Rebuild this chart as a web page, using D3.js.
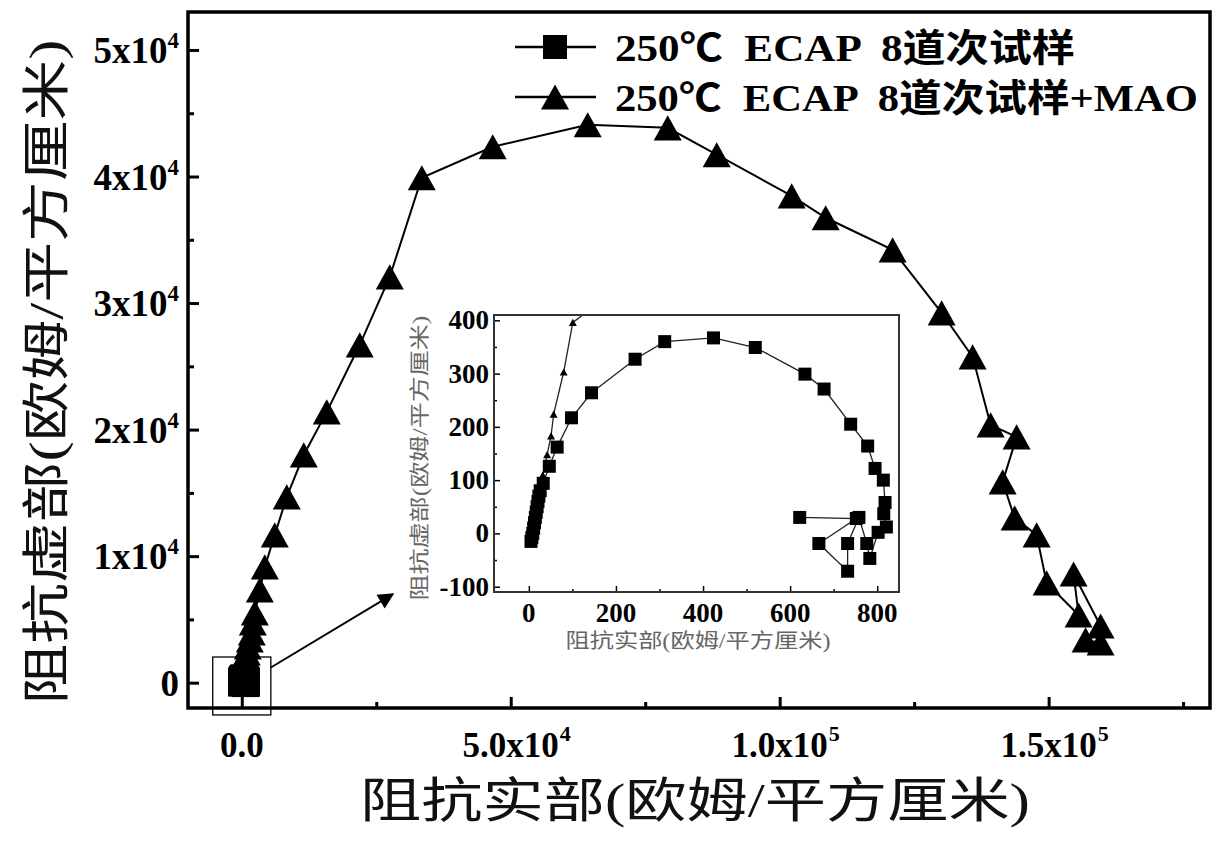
<!DOCTYPE html>
<meta charset="utf-8">
<style>
body { margin: 0; background: #fff; }
.tick line { stroke: #000; }
.lbl { font-family: "Liberation Serif", "Times New Roman", serif; font-weight: bold; fill: #000; }
.cjk { font-family: "Liberation Serif", "Noto Sans CJK SC", serif; }
</style>
<body>
<svg width="1218" height="845"></svg>
<script src="https://d3js.org/d3.v7.min.js"></script>
<script>
// 250C ECAP 8 pass sample (squares)
var ecapRe = [5, 7, 9, 11, 13, 15, 17, 19, 21, 23, 26, 33, 47, 65, 98, 144, 244, 312, 424, 520, 634, 678, 739, 778, 795, 814, 818, 815, 821, 802, 783, 776, 758, 732, 732, 666, 752, 622];
var ecapIm = [-15, -8, 0, 10, 20, 30, 40, 50, 60, 70, 80, 94, 126, 162, 217, 264, 327, 360, 367, 349, 299, 271, 205, 164, 122, 100, 58, 37, 12, 2, -47, -19, 30, -19, -71, -19, 28, 30];

// 250C ECAP 8 pass sample + MAO (triangles)
var maoRe = [5, 12, 22, 32, 42, 51, 57, 80, 101, 190, 370, 560, 740, 930, 1110, 1490, 1860, 2050, 2420, 3350, 4280, 6130, 8360, 11520, 15800, 21930, 27510, 33460, 46650, 64310, 79180, 88290, 102230, 108550, 121000, 130110, 135870, 139220, 144050, 141450, 143680, 147770, 149630, 155570, 154640, 159660, 156870, 159660];
var maoIm = [-8, 30, 70, 110, 148, 183, 224, 303, 396, 450, 920, 1400, 1870, 2350, 2820, 3380, 3930, 4720, 5510, 7330, 9150, 11680, 14680, 18000, 21400, 26700, 32070, 39900, 42350, 44090, 43850, 41720, 38470, 36740, 34200, 29230, 25750, 20370, 19420, 15870, 13020, 11680, 7880, 5350, 8590, 4480, 3380, 3140];

var seriesNames = ["250℃  ECAP  8道次试样", "250℃  ECAP  8道次试样+MAO"];

var xMajor = [0, 5e4, 1e5, 1.5e5];
var xMinor = [2.5e4, 7.5e4, 1.25e5, 1.75e5];
var xTickBase = ["0.0", "5.0x10", "1.0x10", "1.5x10"];
var xTickExp = ["", "4", "5", "5"];
var yMajor = [0, 1e4, 2e4, 3e4, 4e4, 5e4];
var yMinor = [5e3, 1.5e4, 2.5e4, 3.5e4, 4.5e4];
var yTickBase = ["0", "1x10", "2x10", "3x10", "4x10", "5x10"];
var yTickExp = ["", "4", "4", "4", "4", "4"];

var insetXMajor = [0, 200, 400, 600, 800];
var insetXMinor = [100, 300, 500, 700];
var insetYMajor = [-100, 0, 100, 200, 300, 400];
var insetYMinor = [-50, 50, 150, 250, 350];

// zoom box around the origin and the arrow (data units)
var zoomBoxRe = [-5400, 5400];
var zoomBoxIm = [-2550, 2030];
var arrowFrom = [5400, 1200];
var arrowTo = [28100, 7000];

var xTitle = "阻抗实部(欧姆/平方厘米)";
var yTitle = "阻抗虚部(欧姆/平方厘米)";

var svg = d3.select("svg");
var pL = 188, pR = 1210, pT = 12, pB = 708;

var x = d3.scaleLinear().domain([-1e4, 1.8e5]).range([pL, pR]);
var y = d3.scaleLinear().domain([-2000, 53000]).range([pB, pT]);

var ix = d3.scaleLinear().domain([-80, 850]).range([494, 899]);
var iy = d3.scaleLinear().domain([-110, 410]).range([592, 315]);

var ecap = ecapRe.map(function(d, i) { return [d, ecapIm[i]]; });
var mao = maoRe.map(function(d, i) { return [d, maoIm[i]]; });

// triangle centred on its box, size = width
var tri = {
  draw: function(ctx, w) {
    var h = w * 0.9;
    ctx.moveTo(0, -h / 2);
    ctx.lineTo(w / 2, h / 2);
    ctx.lineTo(-w / 2, h / 2);
    ctx.closePath();
  }
};
var sq = {
  draw: function(ctx, w) { ctx.rect(-w / 2, -w / 2, w, w); }
};

var defs = svg.append("defs");
defs.append("clipPath").attr("id", "mainClip").append("rect")
    .attr("x", pL).attr("y", pT).attr("width", pR - pL).attr("height", pB - pT);
defs.append("clipPath").attr("id", "insetClip").append("rect")
    .attr("x", ix.range()[0]).attr("y", iy.range()[1])
    .attr("width", ix.range()[1] - ix.range()[0]).attr("height", iy.range()[0] - iy.range()[1]);
defs.append("marker").attr("id", "arrow").attr("viewBox", "0 0 10 10")
    .attr("refX", 9).attr("refY", 5).attr("markerWidth", 22).attr("markerHeight", 16)
    .attr("markerUnits", "userSpaceOnUse").attr("orient", "auto")
    .append("path").attr("d", "M0,0L10,5L0,10z").attr("fill", "#000");

// main plot
var plot = svg.append("g").attr("clip-path", "url(#mainClip)");
var line = d3.line().x(function(d) { return x(d[0]); }).y(function(d) { return y(d[1]); });

plot.append("path").datum(mao).attr("d", line)
    .attr("fill", "none").attr("stroke", "#000").attr("stroke-width", 2);
plot.append("path").datum(ecap).attr("d", line)
    .attr("fill", "none").attr("stroke", "#000").attr("stroke-width", 2);
plot.selectAll(".sq").data(ecap).enter().append("path")
    .attr("transform", function(d) { return "translate(" + x(d[0]) + "," + y(d[1]) + ")"; })
    .attr("d", d3.symbol().type(sq).size(27));
plot.selectAll(".tri").data(mao).enter().append("path")
    .attr("transform", function(d) { return "translate(" + x(d[0]) + "," + y(d[1]) + ")"; })
    .attr("d", d3.symbol().type(tri).size(28));

// zoom box + arrow
svg.append("rect")
    .attr("x", x(zoomBoxRe[0])).attr("y", y(zoomBoxIm[1]))
    .attr("width", x(zoomBoxRe[1]) - x(zoomBoxRe[0])).attr("height", y(zoomBoxIm[0]) - y(zoomBoxIm[1]))
    .attr("fill", "none").attr("stroke", "#000").attr("stroke-width", 1.3);
svg.append("line")
    .attr("x1", x(arrowFrom[0])).attr("y1", y(arrowFrom[1]))
    .attr("x2", x(arrowTo[0])).attr("y2", y(arrowTo[1]))
    .attr("stroke", "#000").attr("stroke-width", 2).attr("marker-end", "url(#arrow)");

// main ticks (inward)
function ticks(g, axis) { g.call(axis); g.select(".domain").remove(); }
svg.append("g").attr("transform", "translate(" + pL + ",0)")
    .call(ticks, d3.axisLeft(y).tickValues(yMajor).tickSize(-11).tickFormat(""))
    .selectAll("line").attr("stroke-width", 3);
svg.append("g").attr("transform", "translate(" + pL + ",0)")
    .call(ticks, d3.axisLeft(y).tickValues(yMinor).tickSize(-6).tickFormat(""))
    .selectAll("line").attr("stroke-width", 3);
svg.append("g").attr("transform", "translate(0," + pB + ")")
    .call(ticks, d3.axisBottom(x).tickValues(xMajor).tickSize(-11).tickFormat(""))
    .selectAll("line").attr("stroke-width", 3);
svg.append("g").attr("transform", "translate(0," + pB + ")")
    .call(ticks, d3.axisBottom(x).tickValues(xMinor).tickSize(-6).tickFormat(""))
    .selectAll("line").attr("stroke-width", 3);

svg.append("rect").attr("x", pL).attr("y", pT)
    .attr("width", pR - pL).attr("height", pB - pT)
    .attr("fill", "none").attr("stroke", "#000").attr("stroke-width", 3.5);

// main tick labels
yMajor.forEach(function(v, i) {
  var t = svg.append("text").attr("class", "lbl").attr("x", 179).attr("y", y(v) + 13)
      .attr("text-anchor", "end").style("font-size", "37px");
  t.append("tspan").text(yTickBase[i]);
  if (yTickExp[i]) t.append("tspan").attr("dy", -15).style("font-size", "23px").text(yTickExp[i]);
});
xMajor.forEach(function(v, i) {
  var t = svg.append("text").attr("class", "lbl").attr("x", x(v)).attr("y", 757)
      .attr("text-anchor", "middle").style("font-size", "35px").text(xTickBase[i]);
  if (xTickExp[i]) {
    var w = t.node().getComputedTextLength();
    svg.append("text").attr("class", "lbl").attr("x", x(v) + w / 2 + 1).attr("y", 741)
        .style("font-size", "22px").text(xTickExp[i]);
  }
});

// axis titles
svg.append("text").attr("class", "cjk").attr("x", 695).attr("y", 817)
    .attr("text-anchor", "middle").attr("textLength", 670).attr("lengthAdjust", "spacingAndGlyphs")
    .style("font-size", "48px").attr("fill", "#111").text(xTitle);
svg.append("text").attr("class", "cjk")
    .attr("transform", "translate(63,372) rotate(-90)")
    .attr("text-anchor", "middle").attr("textLength", 665).attr("lengthAdjust", "spacingAndGlyphs")
    .style("font-size", "48px").attr("fill", "#111").text(yTitle);

// legend
var legend = svg.append("g");
[0, 1].forEach(function(i) {
  var ly = 47 + i * 50;
  legend.append("line").attr("x1", 515).attr("x2", 596).attr("y1", ly).attr("y2", ly)
      .attr("stroke", "#000").attr("stroke-width", 2.5);
  legend.append("path").attr("transform", "translate(555," + ly + ")")
      .attr("d", d3.symbol().type(i === 0 ? sq : tri).size(i === 0 ? 24 : 28));
  legend.append("text").attr("class", "lbl cjk").attr("x", 615).attr("y", ly + 14)
      .style("font-size", "38px").style("white-space", "pre")
      .attr("textLength", i === 0 ? 460 : 583).attr("lengthAdjust", "spacingAndGlyphs")
      .text(seriesNames[i]);
});

// inset
var inset = svg.append("g");
inset.append("rect").attr("x", ix.range()[0]).attr("y", iy.range()[1])
    .attr("width", ix.range()[1] - ix.range()[0]).attr("height", iy.range()[0] - iy.range()[1])
    .attr("fill", "#fff");
var iplot = inset.append("g").attr("clip-path", "url(#insetClip)");
var iline = d3.line().x(function(d) { return ix(d[0]); }).y(function(d) { return iy(d[1]); });
iplot.append("path").datum(mao).attr("d", iline)
    .attr("fill", "none").attr("stroke", "#222").attr("stroke-width", 1.3);
iplot.append("path").datum(ecap).attr("d", iline)
    .attr("fill", "none").attr("stroke", "#222").attr("stroke-width", 1.3);
iplot.selectAll(".isq").data(ecap).enter().append("path")
    .attr("transform", function(d) { return "translate(" + ix(d[0]) + "," + iy(d[1]) + ")"; })
    .attr("d", d3.symbol().type(sq).size(13));
iplot.selectAll(".itri").data(mao).enter().append("path")
    .attr("transform", function(d) { return "translate(" + ix(d[0]) + "," + iy(d[1]) + ")"; })
    .attr("d", d3.symbol().type(tri).size(8));

inset.append("g").attr("transform", "translate(" + ix.range()[0] + ",0)")
    .call(ticks, d3.axisLeft(iy).tickValues(insetYMajor).tickSize(-6).tickFormat(""))
    .selectAll("line").attr("stroke-width", 1.5).attr("stroke", "#333");
inset.append("g").attr("transform", "translate(" + ix.range()[0] + ",0)")
    .call(ticks, d3.axisLeft(iy).tickValues(insetYMinor).tickSize(-3).tickFormat(""))
    .selectAll("line").attr("stroke-width", 1.5).attr("stroke", "#333");
inset.append("g").attr("transform", "translate(0," + iy.range()[0] + ")")
    .call(ticks, d3.axisBottom(ix).tickValues(insetXMajor).tickSize(-6).tickFormat(""))
    .selectAll("line").attr("stroke-width", 1.5).attr("stroke", "#333");
inset.append("g").attr("transform", "translate(0," + iy.range()[0] + ")")
    .call(ticks, d3.axisBottom(ix).tickValues(insetXMinor).tickSize(-3).tickFormat(""))
    .selectAll("line").attr("stroke-width", 1.5).attr("stroke", "#333");
inset.append("rect").attr("x", ix.range()[0]).attr("y", iy.range()[1])
    .attr("width", ix.range()[1] - ix.range()[0]).attr("height", iy.range()[0] - iy.range()[1])
    .attr("fill", "none").attr("stroke", "#333").attr("stroke-width", 2);

insetYMajor.forEach(function(v) {
  inset.append("text").attr("class", "lbl").attr("x", 489).attr("y", iy(v) + 9)
      .attr("text-anchor", "end").style("font-size", "27px").text(v);
});
insetXMajor.forEach(function(v) {
  inset.append("text").attr("class", "lbl").attr("x", ix(v)).attr("y", 622)
      .attr("text-anchor", "middle").style("font-size", "27px").text(v);
});
inset.append("text").attr("class", "cjk").attr("x", 698).attr("y", 648)
    .attr("text-anchor", "middle").attr("textLength", 265).attr("lengthAdjust", "spacingAndGlyphs")
    .style("font-size", "20px").attr("fill", "#666").text(xTitle);
inset.append("text").attr("class", "cjk")
    .attr("transform", "translate(427,458) rotate(-90)")
    .attr("text-anchor", "middle").attr("textLength", 285).attr("lengthAdjust", "spacingAndGlyphs")
    .style("font-size", "20px").attr("fill", "#666").text(yTitle);
</script>
